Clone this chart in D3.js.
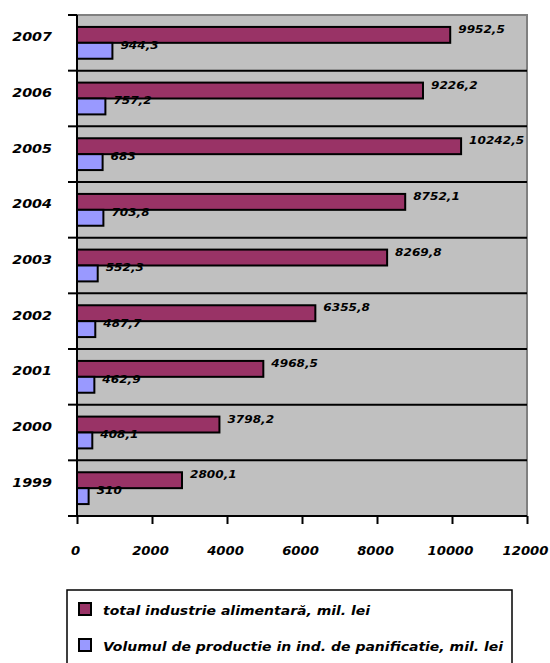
<!DOCTYPE html>
<html>
<head>
<meta charset="utf-8">
<script src="https://cdn.jsdelivr.net/npm/d3@7"></script>
<style>
  html, body { margin: 0; padding: 0; background: #ffffff; }
  svg { display: block; }
  text { font-family: "DejaVu Sans", "Liberation Sans", Arial, sans-serif; font-weight: bold; font-style: italic; fill: #000; }
</style>
</head>
<body>
<div id="chart"></div>
<script>
// ---- data ----
const years = ["2007", "2006", "2005", "2004", "2003", "2002", "2001", "2000", "1999"];
const totalValues = [9952.5, 9226.2, 10242.5, 8752.1, 8269.8, 6355.8, 4968.5, 3798.2, 2800.1];
const breadValues = [944.3, 757.2, 683, 703.8, 552.3, 487.7, 462.9, 408.1, 310];
const seriesNames = ["total industrie alimentară, mil. lei", "Volumul de productie in ind. de panificatie, mil. lei"];
const seriesColors = ["#993366", "#9999FF"];
const xTickValues = [0, 2000, 4000, 6000, 8000, 10000, 12000];

// ---- layout ----
const W = 550, H = 663;
const plot = { left: 77, right: 527, top: 15, bottom: 516 };
const STRETCH = 1.1;
const FONT = "'DejaVu Sans', 'Liberation Sans', Arial, sans-serif";

const svg = d3.select("#chart").append("svg").attr("width", W).attr("height", H);

const x = d3.scaleLinear().domain([0, 12000]).range([plot.left, plot.right]);
const y = d3.scaleBand().domain(years).range([plot.top, plot.bottom]).paddingInner(0).paddingOuter(0);
const ySub = d3.scaleBand().domain([0, 1]).range([0, y.bandwidth()]).paddingInner(0).paddingOuter(0.75);

const fmt = d3.formatLocale({ decimal: ",", thousands: "", grouping: [3], currency: ["", ""] }).format(".1~f");

// plot background
svg.append("rect")
  .attr("x", plot.left).attr("y", plot.top)
  .attr("width", plot.right - plot.left).attr("height", plot.bottom - plot.top)
  .attr("fill", "#C0C0C0");

// gray top/right border
svg.append("path")
  .attr("d", `M${plot.left},${plot.top}H${plot.right}V${plot.bottom}`)
  .attr("fill", "none").attr("stroke", "#808080").attr("stroke-width", 2);

// horizontal gridlines at category boundaries
const boundaries = years.slice(1).map(d => y(d));
svg.append("g").selectAll("line").data(boundaries).join("line")
  .attr("x1", plot.left).attr("x2", plot.right)
  .attr("y1", d => d).attr("y2", d => d)
  .attr("stroke", "#000").attr("stroke-width", 2);

// bars
const rows = years.map((yr, i) => ({ year: yr, vals: [totalValues[i], breadValues[i]] }));
const groups = svg.append("g").selectAll("g").data(rows).join("g")
  .attr("transform", d => `translate(0,${y(d.year)})`);

groups.selectAll("rect").data(d => d.vals.map((v, k) => ({ v, k }))).join("rect")
  .attr("x", x(0))
  .attr("y", d => ySub(d.k))
  .attr("width", d => x(d.v) - x(0))
  .attr("height", ySub.bandwidth())
  .attr("fill", d => seriesColors[d.k])
  .attr("stroke", "#000").attr("stroke-width", 2);

// value labels
groups.selectAll("text").data(d => d.vals.map((v, k) => ({ v, k }))).join("text")
  .attr("transform", d => `translate(${x(d.v) + 8},${ySub(d.k) + ySub.bandwidth() / 2 - 2}) scale(${STRETCH},1)`)
  .attr("font-size", 11)
  .text(d => fmt(d.v));

// left axis (category labels)
const yAxis = svg.append("g").attr("transform", `translate(${plot.left},0)`)
  .call(d3.axisLeft(y).tickSize(0).tickPadding(0));
yAxis.select(".domain").remove();
yAxis.selectAll("text")
  .attr("x", 0).attr("dy", 0)
  .attr("transform", `translate(-25,-1.5) scale(${STRETCH},1)`)
  .attr("font-size", 13)
  .attr("font-family", FONT)
  .attr("fill", "#000");

// left axis line and boundary ticks
const allBounds = [plot.top, ...boundaries, plot.bottom];
svg.append("line")
  .attr("x1", plot.left).attr("x2", plot.left)
  .attr("y1", plot.top).attr("y2", plot.bottom + 1)
  .attr("stroke", "#000").attr("stroke-width", 2);
svg.append("g").selectAll("line").data(allBounds).join("line")
  .attr("x1", plot.left - 9).attr("x2", plot.left)
  .attr("y1", d => d).attr("y2", d => d)
  .attr("stroke", "#000").attr("stroke-width", 2);

// bottom axis
const xAxis = svg.append("g").attr("transform", `translate(0,${plot.bottom})`)
  .call(d3.axisBottom(x).tickValues(xTickValues).tickSize(8).tickFormat(d3.format("d")));
xAxis.select(".domain").attr("stroke", "#000").attr("stroke-width", 2)
  .attr("d", `M${plot.left},0H${plot.right}`);
xAxis.selectAll(".tick line").attr("stroke", "#000").attr("stroke-width", 2);
xAxis.selectAll(".tick text")
  .attr("x", 0).attr("y", 0).attr("dy", 0)
  .attr("transform", `translate(-2,39) scale(${STRETCH},1)`)
  .attr("font-size", 12)
  .attr("font-family", FONT)
  .attr("fill", "#000");

// legend
const legend = svg.append("g");
legend.append("rect")
  .attr("x", 67).attr("y", 590).attr("width", 445).attr("height", 100)
  .attr("fill", "#fff").attr("stroke", "#000").attr("stroke-width", 1.5);
const items = legend.selectAll("g.item").data(seriesNames).join("g")
  .attr("class", "item")
  .attr("transform", (d, i) => `translate(79,${603 + i * 36})`);
items.append("rect")
  .attr("width", 12).attr("height", 12)
  .attr("fill", (d, i) => seriesColors[i])
  .attr("stroke", "#000").attr("stroke-width", 2);
items.append("text")
  .attr("transform", `translate(24,12) scale(1.12,1)`)
  .attr("font-size", 12.5)
  .text(d => d);
</script>
</body>
</html>
